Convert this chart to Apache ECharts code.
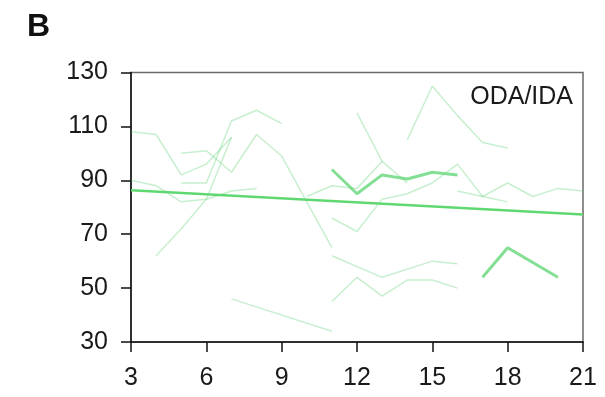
<!DOCTYPE html>
<html>
<head>
<meta charset="utf-8">
<script src="https://cdn.jsdelivr.net/npm/echarts@6/dist/echarts.min.js"></script>
<style>
html,body{margin:0;padding:0;background:#fff;}
#chart{width:605px;height:397px;}
</style>
</head>
<body>
<div id="chart"></div>
<script>
// Axis ticks
var xTicks = [3, 6, 9, 12, 15, 18, 21];
var yTicks = [30, 50, 70, 90, 110, 130];

// Individual trajectories (thin lines): [x, y] pairs
var thin1 = [[3,108],[4,107],[5,92],[6,96],[7,106]];
var thin2 = [[5,100],[6,101],[7,93],[8,107],[9,99],[10,82],[11,65]];
var thin3 = [[5,89],[6,89],[7,112],[8,116],[9,111]];
var thin4 = [[3,90],[4,88],[5,82],[6,83],[7,86],[8,87]];
var thin5 = [[4,62],[5,72],[6,83],[7,106]];
var thin6 = [[10,84],[11,88],[12,87],[13,97]];
var thin7 = [[12,115],[13,97],[14,89]];
var thin8 = [[11,76],[12,71],[13,83],[14,85],[15,89],[16,96],[17,84],[18,89],[19,84],[20,87],[21,86]];
var thin9 = [[16,86],[17,84],[18,82]];
var thin10 = [[14,105],[15,125],[16,114],[17,104],[18,102]];
var thin11 = [[11,62],[13,54],[15,60],[16,59]];
var thin12 = [[11,45],[12,54],[13,47],[14,53],[15,53],[16,50]];
var thin13 = [[7,46],[11,34]];

// Highlighted trajectories (bold lines)
var bold1 = [[11,94],[12,85],[13,92],[14,90.5],[15,93],[16,92]];
var bold2 = [[17,54],[18,65],[20,54]];

// Regression line
var trend = [[3,86.3],[21,77.3]];

var panelLabel = 'B';
var groupLabel = 'ODA/IDA';

var thinLines = [thin1, thin2, thin3, thin4, thin5, thin6, thin7, thin8, thin9, thin10, thin11, thin12, thin13];
var boldLines = [bold1, bold2];

var series = [];
thinLines.forEach(function (d) {
  series.push({
    type: 'line', data: d, symbol: 'none', silent: true,
    lineStyle: { color: 'rgba(85,205,110,0.33)', width: 1.5 }, z: 2
  });
});
boldLines.forEach(function (d) {
  series.push({
    type: 'line', data: d, symbol: 'none', silent: true,
    lineStyle: { color: 'rgba(100,215,120,0.8)', width: 3 }, z: 3
  });
});
series.push({
  type: 'line', data: trend, symbol: 'none', silent: true,
  lineStyle: { color: '#60d871', width: 2.5 }, z: 4
});

var font = 'Liberation Sans, Arial, Helvetica, sans-serif';

var chart = echarts.init(document.getElementById('chart'), null, { renderer: 'canvas' });
chart.setOption({
  animation: false,
  backgroundColor: '#ffffff',
  grid: {
    left: 131, right: 22, top: 72.5, bottom: 55,
    show: true, borderColor: '#6a6a6a', borderWidth: 1.5, backgroundColor: 'transparent'
  },
  xAxis: {
    type: 'value', min: xTicks[0], max: xTicks[xTicks.length - 1], interval: 3,
    axisLine: { show: true, onZero: false, lineStyle: { color: '#111', width: 1.5 } },
    axisTick: { show: true, inside: false, length: 10, lineStyle: { color: '#111', width: 1.5 } },
    axisLabel: { color: '#1a1a1a', fontSize: 25, fontFamily: font, margin: 24 },
    splitLine: { show: false }
  },
  yAxis: {
    type: 'value', min: yTicks[0], max: yTicks[yTicks.length - 1], interval: 20,
    axisLine: { show: true, onZero: false, lineStyle: { color: '#111', width: 1.5 } },
    axisTick: { show: true, inside: false, length: 10, lineStyle: { color: '#111', width: 1.5 } },
    axisLabel: { color: '#1a1a1a', fontSize: 25, fontFamily: font, margin: 23 },
    splitLine: { show: false }
  },
  graphic: [
    { type: 'text', left: 27, top: 11, style: { text: panelLabel, font: 'bold 32px ' + font, fill: '#111' } },
    { type: 'text', right: 32, top: 85, style: { text: groupLabel, font: '25px ' + font, fill: '#1a1a1a' } }
  ],
  series: series
});
</script>
</body>
</html>
